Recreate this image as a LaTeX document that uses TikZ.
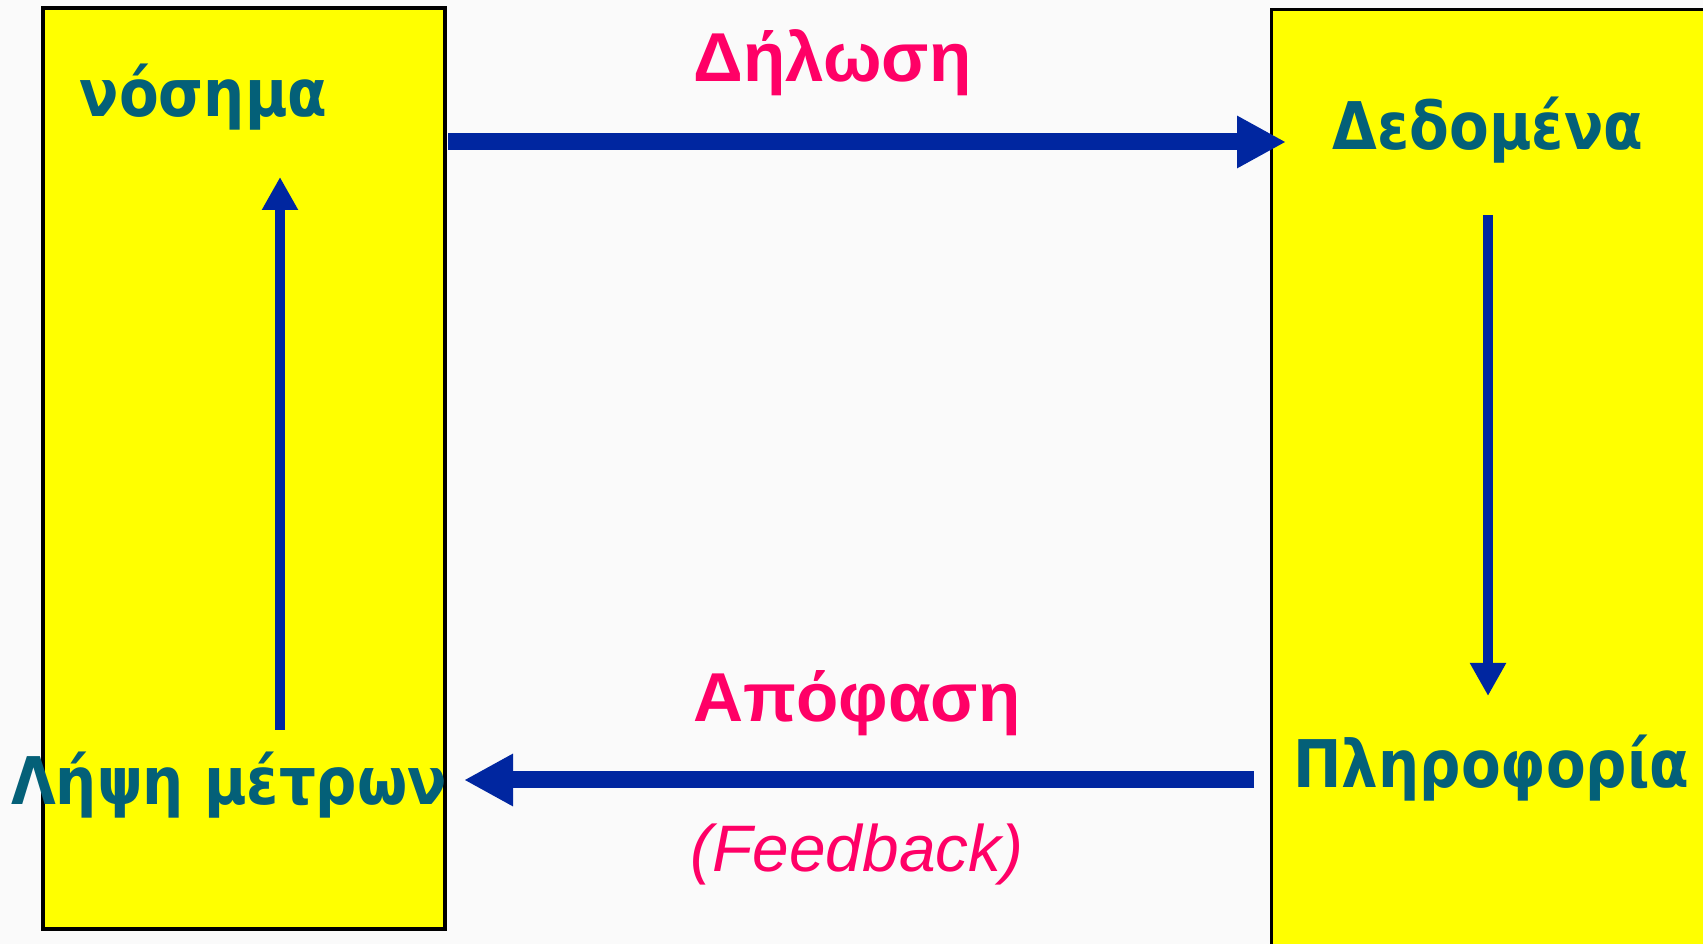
\documentclass[tikz,border=0pt]{standalone}
\usepackage{fontspec}
\setmainfont{Liberation Sans}
\newfontfamily\labelfont[FakeStretch=0.88]{DejaVu Sans}
\usetikzlibrary{arrows.meta}
\definecolor{boxyellow}{RGB}{255,255,0}
\definecolor{labelteal}{RGB}{4,96,120}
\definecolor{notemagenta}{RGB}{255,0,102}
\definecolor{arrowblue}{RGB}{0,38,160}
\begin{document}
\begin{tikzpicture}[
    box/.style={draw, line width=0.9pt, fill=boxyellow, inner sep=0pt},
    stage/.style={font=\labelfont\bfseries\fontsize{18.7pt}{22pt}\selectfont, text=labelteal, anchor=base, inner sep=0pt},
    flow/.style={font=\bfseries\fontsize{19.7pt}{23pt}\selectfont, text=notemagenta, anchor=base, inner sep=0pt},
    wide/.style={arrowblue, line width=0.17cm, -{Triangle[length=0.49cm, width=0.49cm]}},
    thin/.style={arrowblue, line width=0.1cm, -{Triangle[length=0.33cm, width=0.34cm]}}
]
    \useasboundingbox (0, 0) rectangle (17.03, 9.44);
    \clip (0, 0) rectangle (17.03, 9.44);
    \fill[black!2] (0, 0) rectangle (17.03, 9.44);

    \node[box, minimum width=4.02cm, minimum height=9.21cm] (leftbox) at (2.44, 4.755) {};
    \node[box, minimum width=4.6cm, minimum height=9.6cm, anchor=north west] (rightbox) at (12.70, 9.36) {};

    \node[stage] (disease) at (2.035, 8.27) {νόσημα};
    \node[stage] (measures) at (2.29, 1.39) {Λήψη μέτρων};
    \node[stage] (data) at (14.88, 7.94) {Δεδομένα};
    \node[stage] (info) at (14.915, 1.56) {Πληροφορία};

    \node[flow] (report) at (8.325, 8.62) {Δήλωση};
    \node[flow] (decision) at (8.57, 2.22) {Απόφαση};
    \node[font=\itshape\fontsize{18.7pt}{22pt}\selectfont, text=notemagenta, anchor=base, inner sep=0pt] (feedback) at (8.57, 0.72) {(Feedback)};

    \coordinate (reportstart) at (4.48, 8.02);
    \coordinate (reportend) at (12.86, 8.02);
    \coordinate (decisionstart) at (12.54, 1.64);
    \coordinate (decisionend) at (4.64, 1.64);
    \coordinate (measuresup) at (2.80, 2.14);
    \coordinate (diseasedown) at (2.80, 7.67);
    \coordinate (datadown) at (14.88, 7.29);
    \coordinate (infoup) at (14.88, 2.48);

    \draw[wide] (reportstart) -- (reportend);
    \draw[wide] (decisionstart) -- (decisionend);
    \draw[thin] (measuresup) -- (diseasedown);
    \draw[thin] (datadown) -- (infoup);
\end{tikzpicture}
\end{document}
